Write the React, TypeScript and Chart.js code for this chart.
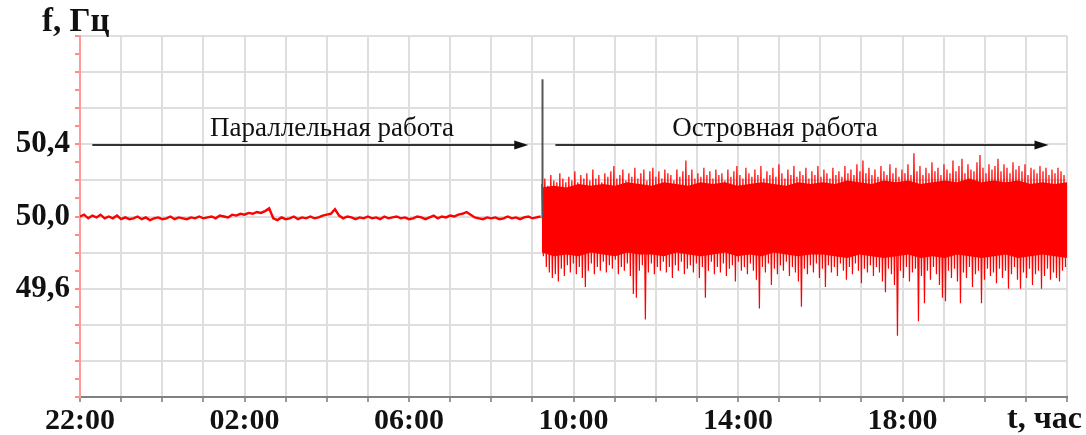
import React, { useEffect, useRef } from "react";
import { Chart, registerables } from "chart.js";

Chart.register(...registerables);

// ---------- tick labels / texts ----------
const xTickHours = [0, 4, 8, 12, 16, 20];
const xTickLabels = ["22:00", "02:00", "06:00", "10:00", "14:00", "18:00"];
const yTickValues = [49.6, 50.0, 50.4];
const yTickLabels = ["49,6", "50,0", "50,4"];
const yAxisTitle = "f, Гц";
const xAxisTitle = "t, час";
const parallelLabel = "Параллельная работа";
const islandLabel = "Островная работа";

// ---------- data ----------
// parallel operation: one sample every 0.1 h from 22:00
const parallelStep = 0.1;
const parallelValues = [
  50.0, 50.01, 49.99, 50.005, 49.995, 50.01, 49.99, 50.0, 49.99, 50.005, 49.985,
  49.995, 49.985, 49.99, 50.0, 49.985, 49.995, 49.98, 49.99, 49.995, 49.985,
  49.99, 50.0, 49.985, 49.995, 49.99, 49.985, 49.995, 49.99, 50.0, 49.99,
  49.995, 50.0, 49.99, 50.005, 50.0, 49.995, 50.01, 50.005, 50.015, 50.01,
  50.02, 50.015, 50.025, 50.02, 50.03, 50.045, 49.99, 49.98, 49.995, 49.985,
  49.99, 50.0, 49.985, 49.995, 49.99, 50.0, 49.99, 49.995, 50.005, 50.01,
  50.015, 50.04, 50.005, 49.99, 50.0, 49.995, 49.985, 49.995, 49.99, 50.0,
  49.99, 49.995, 49.985, 50.0, 49.99, 49.995, 50.0, 49.99, 49.995, 49.985,
  49.99, 50.0, 49.995, 49.985, 49.995, 50.005, 49.99, 50.0, 49.995, 50.005,
  50.0, 50.01, 50.015, 50.025, 50.01, 49.995, 49.99, 49.985, 49.995, 49.99,
  49.995, 49.985, 49.99, 50.0, 49.99, 49.995, 49.985, 49.995, 50.0, 49.99, 49.995, 50.0,
];

// island operation: successive upper and lower swings
const islandStart = 11.23;
const islandEnd = 24;
const islandHigh = [
  50.18, 50.21, 50.17, 50.23, 50.2, 50.19, 50.24, 50.21, 50.19, 50.22,
  50.2, 50.25, 50.19, 50.23, 50.21, 50.24, 50.2, 50.26, 50.21, 50.23,
  50.19, 50.24, 50.22, 50.25, 50.28, 50.21, 50.23, 50.26, 50.2, 50.24,
  50.22, 50.27, 50.21, 50.24, 50.26, 50.2, 50.25, 50.27, 50.22, 50.25,
  50.21, 50.26, 50.24, 50.23, 50.2, 50.26, 50.22, 50.25, 50.31, 50.23,
  50.26, 50.21, 50.24, 50.22, 50.27, 50.23, 50.25, 50.21, 50.26, 50.23,
  50.24, 50.2, 50.26, 50.22, 50.25, 50.28, 50.23, 50.21, 50.27, 50.24,
  50.22, 50.26, 50.23, 50.28, 50.21, 50.25, 50.23, 50.27, 50.22, 50.29,
  50.24, 50.21, 50.26, 50.23, 50.28, 50.22, 50.25, 50.23, 50.27, 50.21,
  50.25, 50.23, 50.28, 50.22, 50.26, 50.24, 50.21, 50.27, 50.23, 50.25,
  50.22, 50.28, 50.24, 50.26, 50.23, 50.29, 50.25, 50.31, 50.24, 50.27,
  50.23, 50.26, 50.22, 50.28, 50.25, 50.23, 50.29, 50.24, 50.27, 50.22,
  50.26, 50.24, 50.29, 50.23, 50.35, 50.25, 50.28, 50.23, 50.27, 50.24,
  50.3, 50.25, 50.27, 50.23, 50.29, 50.26, 50.24, 50.31, 50.25, 50.28,
  50.32, 50.24, 50.29, 50.26, 50.25, 50.3, 50.34, 50.27, 50.24, 50.29,
  50.26, 50.28, 50.32, 50.25, 50.29, 50.27, 50.24, 50.3, 50.26, 50.28,
  50.25, 50.29, 50.23, 50.27, 50.26, 50.24, 50.28, 50.25, 50.27, 50.23,
  50.26, 50.24, 50.27, 50.25, 50.23,
];
const islandLow = [
  49.78, 49.72, 49.69, 49.66, 49.68, 49.64, 49.71, 49.67, 49.73, 49.69,
  49.74, 49.68, 49.72, 49.66, 49.61, 49.7, 49.74, 49.68, 49.72, 49.7,
  49.75, 49.69, 49.73, 49.71, 49.76, 49.68, 49.72, 49.7, 49.74, 49.67,
  49.57, 49.55, 49.7, 49.73, 49.43, 49.69, 49.74, 49.68, 49.72, 49.7,
  49.75, 49.69, 49.72, 49.66, 49.73, 49.7, 49.75, 49.68, 49.71, 49.73,
  49.69, 49.74, 49.66, 49.72, 49.55, 49.7, 49.75, 49.68, 49.72, 49.69,
  49.74, 49.67, 49.71, 49.73, 49.64, 49.75, 49.7, 49.72, 49.68, 49.74,
  49.7, 49.65, 49.49, 49.72, 49.69, 49.74, 49.62, 49.71, 49.68, 49.73,
  49.7, 49.75, 49.67, 49.72, 49.69, 49.64, 49.5, 49.71, 49.68, 49.73,
  49.69, 49.74, 49.66, 49.71, 49.61, 49.73, 49.69, 49.72, 49.67, 49.74,
  49.7, 49.65, 49.72, 49.68, 49.74, 49.7, 49.63, 49.71, 49.69, 49.73,
  49.67, 49.72, 49.69, 49.64, 49.58, 49.71, 49.68, 49.62, 49.34, 49.7,
  49.66, 49.72, 49.64, 49.69, 49.71, 49.42, 49.67, 49.52, 49.7, 49.65,
  49.72, 49.68, 49.62, 49.55, 49.53, 49.7, 49.66, 49.71, 49.64, 49.52,
  49.69, 49.66, 49.72, 49.61, 49.68, 49.7, 49.52, 49.65, 49.71, 49.67,
  49.69, 49.63, 49.71, 49.66, 49.7, 49.6, 49.68, 49.72, 49.65, 49.6,
  49.69, 49.66, 49.71, 49.62, 49.68, 49.7, 49.6, 49.67, 49.71, 49.65,
  49.69, 49.66, 49.64, 49.7, 49.72,
];
// dense core of the island band (upper / lower edge of the solid region)
const coreTop = [
  50.16, 50.17, 50.16, 50.18, 50.17, 50.18, 50.17, 50.19, 50.18, 50.17,
  50.19, 50.18, 50.17, 50.19, 50.18, 50.19, 50.17, 50.18, 50.19, 50.18,
  50.17, 50.19, 50.18, 50.19, 50.18, 50.2, 50.19, 50.18, 50.2, 50.19,
  50.2, 50.18, 50.19, 50.2, 50.19, 50.21, 50.19, 50.2, 50.19, 50.2,
  50.18, 50.19, 50.18, 50.19,
];
const coreBottom = [
  49.8, 49.78, 49.79, 49.78, 49.8, 49.79, 49.78, 49.8, 49.79, 49.79,
  49.78, 49.8, 49.79, 49.78, 49.79, 49.8, 49.78, 49.79, 49.78, 49.8,
  49.79, 49.78, 49.79, 49.79, 49.78, 49.77, 49.79, 49.78, 49.77, 49.78,
  49.79, 49.77, 49.78, 49.77, 49.79, 49.78, 49.77, 49.78, 49.79, 49.77,
  49.78, 49.79, 49.78, 49.77,
];

// annotation anchors (data units)
const switchHour = 11.23;
const switchTop = 50.76;
const switchBottom = 49.99;
const parallelArrow = [0.3, 10.9];
const islandArrow = [11.56, 23.55];
const arrowLevel = 50.4;
const parallelTextHour = 6.13;
const islandTextHour = 16.9;

const SERIF = '"Liberation Serif", "Times New Roman", serif';

const parallelPoints = parallelValues.map((v, i) => ({ x: i * parallelStep, y: v }));
const islandStep = (islandEnd - islandStart) / islandHigh.length;
const islandPoints: { x: number; y: number }[] = [];
islandHigh.forEach((h, i) => {
  islandPoints.push({ x: islandStart + i * islandStep, y: h });
  islandPoints.push({ x: islandStart + (i + 0.5) * islandStep, y: islandLow[i] });
});
const coreStep = (islandEnd - islandStart) / (coreTop.length - 1);
const coreTopPoints = coreTop.map((v, i) => ({ x: islandStart + i * coreStep, y: v }));
const coreBottomPoints = coreBottom.map((v, i) => ({ x: islandStart + i * coreStep, y: v }));

const near = (a: number, b: number) => Math.abs(a - b) < 1e-6;

const annotate = {
  id: "annotate",
  afterDatasetsDraw(chart: any) {
    const { ctx } = chart;
    const x = chart.scales.x;
    const y = chart.scales.y;
    ctx.save();
    const sx = Math.round(x.getPixelForValue(switchHour)) + 0.5;
    ctx.strokeStyle = "#555";
    ctx.lineWidth = 2;
    ctx.beginPath();
    ctx.moveTo(sx, y.getPixelForValue(switchTop));
    ctx.lineTo(sx, y.getPixelForValue(switchBottom));
    ctx.stroke();

    const ay = Math.round(y.getPixelForValue(arrowLevel)) + 1;
    const drawArrow = (a: number, b: number) => {
      const x1 = x.getPixelForValue(a);
      const x2 = x.getPixelForValue(b);
      ctx.strokeStyle = "#333";
      ctx.lineWidth = 2;
      ctx.beginPath();
      ctx.moveTo(x1, ay);
      ctx.lineTo(x2 - 10, ay);
      ctx.stroke();
      ctx.fillStyle = "#111";
      ctx.beginPath();
      ctx.moveTo(x2, ay);
      ctx.lineTo(x2 - 14, ay - 4.5);
      ctx.lineTo(x2 - 14, ay + 4.5);
      ctx.closePath();
      ctx.fill();
    };
    drawArrow(parallelArrow[0], parallelArrow[1]);
    drawArrow(islandArrow[0], islandArrow[1]);

    ctx.fillStyle = "#111";
    ctx.font = `27px ${SERIF}`;
    ctx.textAlign = "center";
    ctx.textBaseline = "alphabetic";
    ctx.fillText(parallelLabel, x.getPixelForValue(parallelTextHour), ay - 9);
    ctx.fillText(islandLabel, x.getPixelForValue(islandTextHour), ay - 9);
    ctx.restore();
  },
  afterDraw(chart: any) {
    const { ctx } = chart;
    ctx.save();
    ctx.fillStyle = "#111";
    ctx.font = `bold 33px ${SERIF}`;
    ctx.textBaseline = "alphabetic";
    ctx.textAlign = "left";
    ctx.fillText(yAxisTitle, 42, 31);
    ctx.font = `bold 32px ${SERIF}`;
    ctx.textAlign = "right";
    ctx.fillText(xAxisTitle, 1082, 428);
    ctx.restore();
  },
};

export default function App() {
  const ref = useRef<HTMLCanvasElement | null>(null);
  useEffect(() => {
    if (!ref.current) return;
    const chart = new Chart(ref.current, {
      type: "line",
      data: {
        datasets: [
          {
            data: parallelPoints,
            borderColor: "#ff0000",
            borderWidth: 2.4,
            pointRadius: 0,
            tension: 0,
            fill: false,
          },
          {
            data: coreTopPoints,
            borderColor: "#ff0000",
            backgroundColor: "#ff0000",
            borderWidth: 0,
            pointRadius: 0,
            tension: 0,
            fill: "+1",
          },
          {
            data: coreBottomPoints,
            borderColor: "#ff0000",
            borderWidth: 0,
            pointRadius: 0,
            tension: 0,
            fill: false,
          },
          {
            data: islandPoints,
            borderColor: "#ff0000",
            borderWidth: 1.2,
            pointRadius: 0,
            tension: 0,
            fill: false,
          },
        ],
      },
      plugins: [annotate],
      options: {
        animation: false,
        responsive: true,
        maintainAspectRatio: false,
        devicePixelRatio: 1,
        layout: { padding: { top: 36, right: 19, left: 0, bottom: 0 } },
        plugins: { legend: { display: false }, tooltip: { enabled: false } },
        scales: {
          x: {
            type: "linear",
            min: 0,
            max: 24,
            afterFit: (s: any) => {
              s.height = 38;
            },
            afterBuildTicks: (s: any) => {
              const t = [];
              for (let h = 0; h <= 24; h++) t.push({ value: h });
              s.ticks = t;
            },
            ticks: {
              autoSkip: false,
              maxRotation: 0,
              padding: 1,
              color: "#111",
              font: { family: SERIF, size: 30, weight: "bold" },
              callback: (v: any) => {
                const k = xTickHours.findIndex((h) => near(h, Number(v)));
                return k >= 0 ? xTickLabels[k] : "";
              },
            },
            grid: {
              color: "#dedede",
              lineWidth: 2,
              drawTicks: true,
              tickLength: 5,
              tickColor: "#999",
            },
            border: { color: "#808080", width: 2 },
          },
          y: {
            type: "linear",
            min: 49,
            max: 51,
            afterFit: (s: any) => {
              s.width = 80;
            },
            afterBuildTicks: (s: any) => {
              const t = [];
              for (let k = 0; k <= 20; k++) t.push({ value: Math.round((49 + k * 0.1) * 10) / 10 });
              s.ticks = t;
            },
            ticks: {
              autoSkip: false,
              padding: 5,
              color: "#111",
              font: { family: SERIF, size: 31, weight: "bold" },
              callback: (v: any) => {
                const k = yTickValues.findIndex((h) => near(h, Number(v)));
                return k >= 0 ? yTickLabels[k] : "";
              },
            },
            grid: {
              color: (c: any) => {
                const v = c.tick ? c.tick.value : 0;
                const r = Math.round(v * 10);
                return r % 2 === 0 ? "#dedede" : "rgba(0,0,0,0)";
              },
              lineWidth: 2,
              drawTicks: true,
              tickLength: 5,
              tickColor: "#ff8a8a",
            },
            border: { color: "#ff9a9a", width: 2 },
          },
        },
      },
    });
    return () => chart.destroy();
  }, []);
  return (
    <div style={{ position: "absolute", left: 0, top: 0, width: 1086, height: 435 }}>
      <canvas ref={ref} />
    </div>
  );
}
